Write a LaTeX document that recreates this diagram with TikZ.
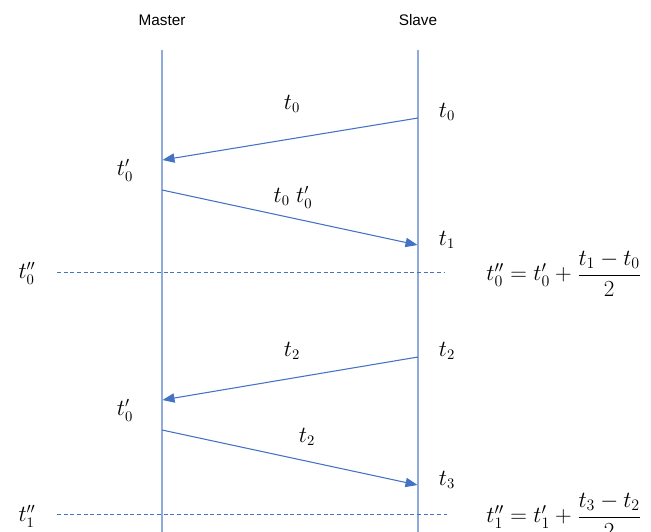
\documentclass[tikz,border=0pt]{standalone}
\usepackage{amsmath}
\usepackage{fontspec}
\setsansfont{Liberation Sans}
\usetikzlibrary{arrows.meta}
\tikzset{every picture/.style={line width=0.75pt}}
\definecolor{lifeblue}{RGB}{143,170,220}
\definecolor{msgblue}{RGB}{68,114,196}

\begin{document}
\begin{tikzpicture}[x=0.75pt,y=0.75pt,yscale=-1,xscale=1,
  lifeline/.style={draw=lifeblue,line width=1.1pt},
  msg/.style={draw=msgblue,line width=0.8pt,-{Triangle[length=9pt,width=7pt]}},
  sync/.style={draw=msgblue,line width=0.6pt,dash pattern=on 3pt off 2pt},
  role/.style={font=\sffamily\fontsize{11.5}{13}\selectfont},
  stamp/.style={font=\fontsize{16}{18}\selectfont},
  rule/.style={font=\fontsize{17.5}{20}\selectfont}]
\useasboundingbox (0,0) rectangle (651,532);

%Lifelines
\node[role] (master) at (162,20) {Master};
\node[role] (slave) at (418,20) {Slave};
\coordinate (mtop) at (162,50);
\coordinate (mbot) at (162,540);
\coordinate (stop) at (418,50);
\coordinate (sbot) at (418,540);
\draw [lifeline] (mtop) -- (mbot);
\draw [lifeline] (stop) -- (sbot);

%First exchange
\coordinate (s0) at (418,118);
\coordinate (m0) at (162.5,160);
\coordinate (m1) at (162,190);
\coordinate (s1) at (417.5,245);
\draw [msg] (s0) -- (m0);
\draw [msg] (m1) -- (s1);
\node[stamp] (lbl0) at (292,104) {$t_0$};
\node[stamp] (ts0) at (447,112) {$t_0$};
\node[stamp] (tm0) at (125,170) {$t'_0$};
\node[stamp] (lbl1) at (293,197) {$t_0\ t'_0$};
\node[stamp] (ts1) at (447,240) {$t_1$};

%Correction 1
\coordinate (d0a) at (57,272);
\coordinate (d0b) at (445,272);
\draw [sync] (d0a) -- (d0b);
\node[stamp] (tc0) at (27,273) {$t''_0$};
\node[rule] (eq0) at (564,274) {$t''_0 = t'_0 + \dfrac{t_1 - t_0}{2}$};

%Second exchange
\coordinate (s2) at (418,357);
\coordinate (m2) at (162.5,400);
\coordinate (m3) at (162,430);
\coordinate (s3) at (417.5,485);
\draw [msg] (s2) -- (m2);
\draw [msg] (m3) -- (s3);
\node[stamp] (lbl2) at (292,351) {$t_2$};
\node[stamp] (ts2) at (447,351) {$t_2$};
\node[stamp] (tm2) at (125,410) {$t'_0$};
\node[stamp] (lbl3) at (307,437) {$t_2$};
\node[stamp] (ts3) at (447,480) {$t_3$};

%Correction 2
\coordinate (d1a) at (57,514);
\coordinate (d1b) at (447,514);
\draw [sync] (d1a) -- (d1b);
\node[stamp] (tc1) at (27,516) {$t''_1$};
\node[rule] (eq1) at (564,516) {$t''_1 = t'_1 + \dfrac{t_3 - t_2}{2}$};

\end{tikzpicture}
\end{document}
